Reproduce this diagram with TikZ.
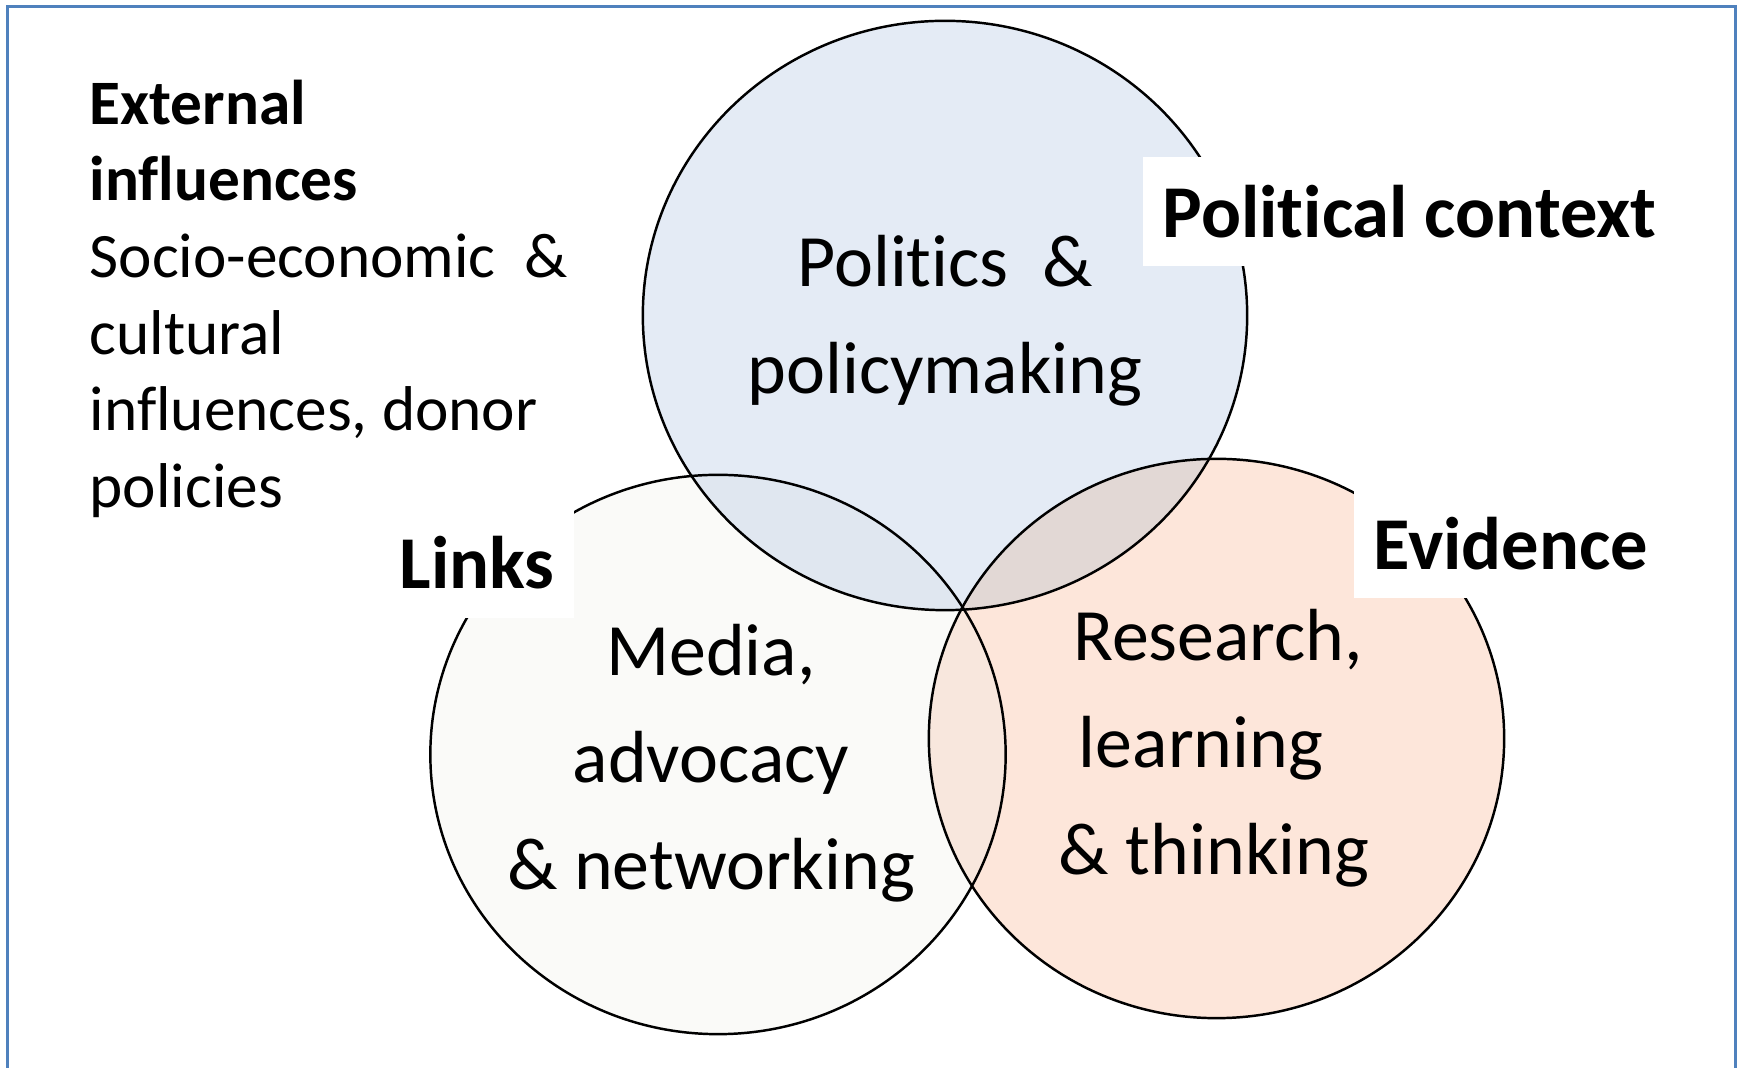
\documentclass[tikz,border=0pt]{standalone}
\usepackage{fontspec}
\setmainfont{Carlito}[Ligatures=NoCommon]
\definecolor{framecol}{RGB}{79,129,189}
\definecolor{topfill}{RGB}{228,235,245}
\definecolor{leftfill}{RGB}{250,250,248}
\definecolor{rightfill}{RGB}{253,230,218}
\definecolor{topleftfill}{RGB}{224,231,240}
\definecolor{toprightfill}{RGB}{226,216,213}
\definecolor{leftrightfill}{RGB}{248,231,221}
\begin{document}
\begin{tikzpicture}[x=0.01cm,y=-0.01cm,
  ring/.style={draw=black,line width=0.7pt},
  bodytext/.style={align=center,inner sep=0pt,font=\fontsize{21}{30.4}\selectfont},
  tag/.style={fill=white,inner xsep=0.2cm,inner ysep=0pt,minimum height=1.09cm,font=\fontsize{21.2}{24}\selectfont\bfseries},
  sidetext/.style={align=left,inner sep=0pt,font=\fontsize{18}{21.8}\selectfont}]
\useasboundingbox (0,0) rectangle (1739,1068);
\fill[white] (0,0) rectangle (1739,1068);
% outer frame, open at the bottom
\draw[framecol,line width=0.75pt] (7.5,1068) -- (7.5,6.5) -- (1735.5,6.5) -- (1735.5,1068);
% the three sets
\def\toppath{(945,315.5) ellipse [x radius=3.02cm,y radius=2.945cm]}
\def\leftpath{(718,754.5) ellipse [x radius=2.875cm,y radius=2.795cm]}
\def\rightpath{(1216.5,738.5) ellipse [x radius=2.875cm,y radius=2.795cm]}
\fill[topfill] \toppath;
\fill[leftfill] \leftpath;
\fill[rightfill] \rightpath;
\begin{scope}
  \clip \toppath;
  \fill[topleftfill] \leftpath;
  \fill[toprightfill] \rightpath;
\end{scope}
\begin{scope}
  \clip \leftpath;
  \clip \rightpath;
  \fill[leftrightfill] (0,0) rectangle (1739,1068);
\end{scope}
\draw[ring] \toppath;
\draw[ring] \leftpath;
\draw[ring] \rightpath;
% labels of the sets
\node[tag,anchor=west] (political) at (1142,211.5) {Political context};
\node[tag,anchor=west] (evidence) at (1353,543.5) {Evidence};
\node[tag,anchor=east] (links) at (575,563) {Links};
% contents of the sets
\node[bodytext] (politics) at (945,321) {Politics\ \ \&\\policymaking};
\node[bodytext] (media) at (711,763) {Media,\\advocacy\\\& networking};
\node[bodytext] (research) at (1214,748) {\hspace*{0.08cm}Research,\\learning\hspace*{0.26cm}\null\\\& thinking};
% external influences
\node[sidetext,anchor=north west] (external) at (89,79)
  {\textbf{External}\\\textbf{influences}\\Socio-economic\ \ \&\\cultural\\influences, donor\\policies};
\end{tikzpicture}
\end{document}
